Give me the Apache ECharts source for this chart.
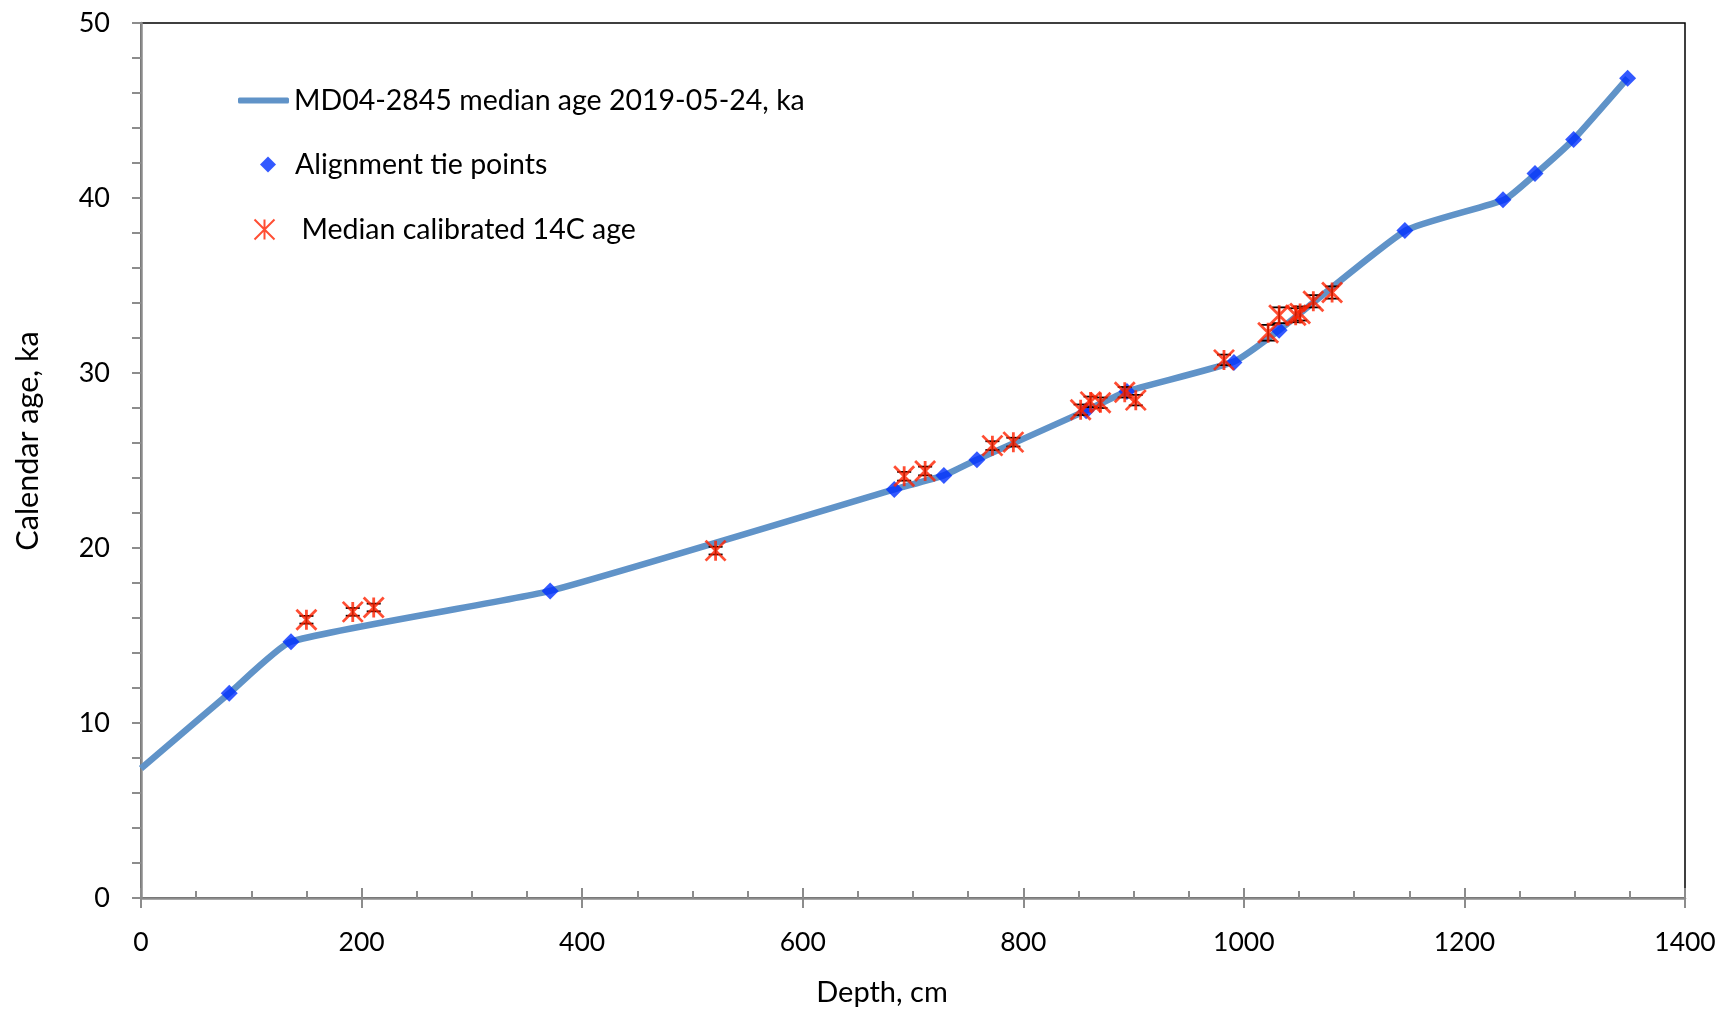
<!DOCTYPE html>
<html>
<head>
<meta charset="utf-8">
<script src="https://cdn.jsdelivr.net/npm/echarts@6/dist/echarts.min.js"></script>
<style>html,body{margin:0;padding:0;background:#fff}#c{width:1726px;height:1013px}</style>
</head>
<body>
<div id="c"></div>
<script>
// Age model line (depth cm, age ka)
const lineDepth = [0, 80, 136, 371, 683, 728, 758, 857, 894, 991, 1032, 1147, 1236, 1265, 1299, 1348];
const lineAge   = [7.4, 11.7, 14.65, 17.55, 23.35, 24.15, 25.05, 27.85, 28.95, 30.65, 32.45, 38.15, 39.9, 41.4, 43.35, 46.85];
// Alignment tie points
const tieDepth = [80, 136, 371, 683, 728, 758, 857, 894, 991, 1032, 1146, 1235, 1264, 1299, 1348];
const tieAge   = [11.7, 14.65, 17.55, 23.35, 24.15, 25.05, 27.85, 28.95, 30.6, 32.45, 38.15, 39.9, 41.4, 43.35, 46.85];
// Median calibrated 14C ages with uncertainties
const c14Depth = [150, 192, 211, 521, 692, 711, 772, 791, 852, 861, 870, 892, 902, 982, 1022, 1032, 1047, 1051, 1063, 1080];
const c14Age   = [15.9, 16.35, 16.6, 19.85, 24.1, 24.4, 25.85, 26.05, 27.9, 28.35, 28.3, 28.9, 28.45, 30.75, 32.3, 33.3, 33.3, 33.4, 34.1, 34.6];
const c14Err   = [0.22, 0.22, 0.22, 0.22, 0.25, 0.25, 0.25, 0.25, 0.3, 0.3, 0.3, 0.3, 0.3, 0.3, 0.45, 0.45, 0.4, 0.4, 0.35, 0.35];
const xTicks = [0, 200, 400, 600, 800, 1000, 1200, 1400];
const yTicks = [0, 10, 20, 30, 40, 50];

const FONT = 'Lato';
const chart = echarts.init(document.getElementById('c'));
const asterisk = 'path://M0,0L10,10M10,0L0,10M5,0L5,10';

const lineData = lineDepth.map((d, i) => [d, lineAge[i]]);
const tieData = tieDepth.map((d, i) => [d, tieAge[i]]);
const c14Data = c14Depth.map((d, i) => [d, c14Age[i]]);
const errData = c14Depth.map((d, i) => [d, c14Age[i], c14Err[i]]);

chart.setOption({
  animation: false,
  grid: { left: 141, right: 41, top: 23, bottom: 115, show: true, borderColor: '#000', borderWidth: 1.5, backgroundColor: 'transparent' },
  legend: [
    { left: 233, top: 81, itemWidth: 51, itemHeight: 6,
      data: [{ name: 'MD04-2845 median age 2019-05-24, ka', icon: 'roundRect', itemStyle: { color: '#6093C8' } }],
      textStyle: { fontFamily: FONT, fontSize: 28.5, color: '#000' } },
    { left: 255, top: 145, itemWidth: 16, itemHeight: 16, data: ['Alignment tie points'],
      textStyle: { fontFamily: FONT, fontSize: 28.5, color: '#000', padding: [0, 0, 0, 14] } },
    { left: 247, top: 210, itemWidth: 20, itemHeight: 20, data: ['Median calibrated 14C age'],
      textStyle: { fontFamily: FONT, fontSize: 28.5, color: '#000', padding: [0, 0, 0, 22] } }
  ],
  xAxis: [{
    type: 'value', min: 0, max: 1400, interval: 200,
    axisLine: { lineStyle: { color: '#8c8c8c', width: 2.5 } },
    axisTick: { show: true, inside: true, length: 10, lineStyle: { color: '#8c8c8c', width: 2 } },
    minorTick: { show: true, splitNumber: 4, length: 7, lineStyle: { color: '#8c8c8c', width: 2 } },
    splitLine: { show: false },
    axisLabel: { fontFamily: FONT, fontSize: 26.5, color: '#000', margin: 31,
      formatter: v => xTicks.includes(v) ? String(v) : '' }
  }, {
    type: 'value', min: 0, max: 1400, interval: 200, position: 'bottom',
    axisLine: { show: false },
    axisTick: { show: true, inside: false, length: 10, lineStyle: { color: '#8c8c8c', width: 2 } },
    axisLabel: { show: false }, splitLine: { show: false }
  }],
  yAxis: {
    type: 'value', min: 0, max: 50, interval: 10,
    axisLine: { show: true, lineStyle: { color: '#8c8c8c', width: 2.5 } },
    axisTick: { show: true, inside: false, length: 9, lineStyle: { color: '#8c8c8c', width: 2 } },
    minorTick: { show: true, splitNumber: 5, length: 9, lineStyle: { color: '#8c8c8c', width: 2 } },
    splitLine: { show: false },
    axisLabel: { fontFamily: FONT, fontSize: 27, color: '#000', margin: 31,
      formatter: v => yTicks.includes(v) ? String(v) : '' }
  },
  graphic: [
    { type: 'text', x: 882, y: 993, style: { text: 'Depth, cm', fontFamily: FONT, fontSize: 29, fill: '#000', textAlign: 'center', textVerticalAlign: 'middle' } },
    { type: 'text', rotation: Math.PI / 2, x: 28, y: 441, style: { text: 'Calendar age, ka', fontFamily: FONT, fontSize: 30.5, fill: '#000', textAlign: 'center', textVerticalAlign: 'middle' } }
  ],
  series: [
    { name: 'MD04-2845 median age 2019-05-24, ka', type: 'line', data: lineData, smooth: 0.15,
      symbol: 'none', showSymbol: false, lineStyle: { color: '#6093C8', width: 6.5 }, itemStyle: { color: '#6093C8' }, z: 2 },
    { name: 'Alignment tie points', type: 'scatter', data: tieData, symbol: 'diamond', symbolSize: [17, 17],
      itemStyle: { color: '#0030FF' }, z: 3 },
    { name: 'errbars', type: 'custom', data: errData, z: 4,
      renderItem: (params, api) => {
        const x = api.value(0), y = api.value(1), e = api.value(2);
        const top = api.coord([x, y + e]), bot = api.coord([x, y - e]);
        const w = 7;
        const st = { stroke: '#000', lineWidth: 1.8 };
        return { type: 'group', children: [
          { type: 'line', shape: { x1: top[0], y1: top[1], x2: bot[0], y2: bot[1] }, style: st },
          { type: 'line', shape: { x1: top[0] - w, y1: top[1], x2: top[0] + w, y2: top[1] }, style: st },
          { type: 'line', shape: { x1: bot[0] - w, y1: bot[1], x2: bot[0] + w, y2: bot[1] }, style: st }
        ]};
      } },
    { name: 'Median calibrated 14C age', type: 'scatter', data: c14Data, symbol: asterisk, symbolSize: 20,
      symbolKeepAspect: true,
      itemStyle: { color: 'none', borderColor: '#FF2200', borderWidth: 2.8 }, z: 5 }
  ]
});
</script>
</body>
</html>
